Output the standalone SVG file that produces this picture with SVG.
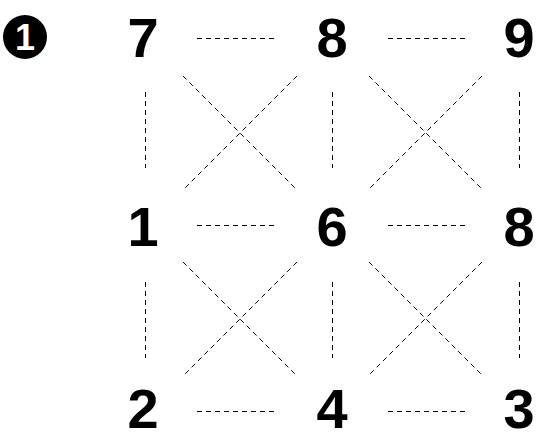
<svg xmlns="http://www.w3.org/2000/svg" width="538" height="440" viewBox="0 0 538 440">
<style>
.n{font-family:"Liberation Sans",Arial,sans-serif;font-weight:700;font-size:56px;fill:#000;text-anchor:middle}
.c line{stroke:#000;stroke-width:1;stroke-dasharray:5 4;fill:none}
</style>
<rect width="538" height="440" fill="#fff"/>
<g id="badge">
<circle cx="25" cy="37" r="22" fill="#000"/>
<text x="25" y="50" font-family="Liberation Sans, Arial, sans-serif" font-weight="700" font-size="36" fill="#fff" text-anchor="middle">1</text>
</g>
<g class="c" id="connectors">
<line x1="197" y1="38.5" x2="278" y2="38.5"/>
<line x1="388" y1="38.5" x2="468" y2="38.5"/>
<line x1="197" y1="225.5" x2="278" y2="225.5"/>
<line x1="388" y1="225.5" x2="468" y2="225.5"/>
<line x1="197" y1="411.5" x2="278" y2="411.5"/>
<line x1="388" y1="411.5" x2="468" y2="411.5"/>
<line x1="145.5" y1="92" x2="145.5" y2="168"/>
<line x1="332.5" y1="92" x2="332.5" y2="168"/>
<line x1="519.5" y1="92" x2="519.5" y2="168"/>
<line x1="145.5" y1="282" x2="145.5" y2="358"/>
<line x1="332.5" y1="282" x2="332.5" y2="358"/>
<line x1="519.5" y1="282" x2="519.5" y2="358"/>
<line x1="183" y1="76" x2="296" y2="189"/>
<line x1="297" y1="76" x2="184" y2="189"/>
<line x1="369" y1="76" x2="482" y2="189"/>
<line x1="482" y1="76" x2="369" y2="189"/>
<line x1="183" y1="262" x2="296" y2="375"/>
<line x1="297" y1="262" x2="184" y2="375"/>
<line x1="369" y1="262" x2="482" y2="375"/>
<line x1="482" y1="262" x2="369" y2="375"/>
</g>
<g id="n7"><text class="n" x="143" y="57">7</text></g>
<g id="n8a"><text class="n" x="332" y="57">8</text></g>
<g id="n9"><text class="n" x="519" y="57">9</text></g>
<g id="n1"><text class="n" x="143" y="246">1</text></g>
<g id="n6"><text class="n" x="332" y="246">6</text></g>
<g id="n8b"><text class="n" x="519" y="246">8</text></g>
<g id="n2"><text class="n" x="143" y="428">2</text></g>
<g id="n4"><text class="n" x="332" y="428">4</text></g>
<g id="n3"><text class="n" x="519" y="428">3</text></g>
</svg>
